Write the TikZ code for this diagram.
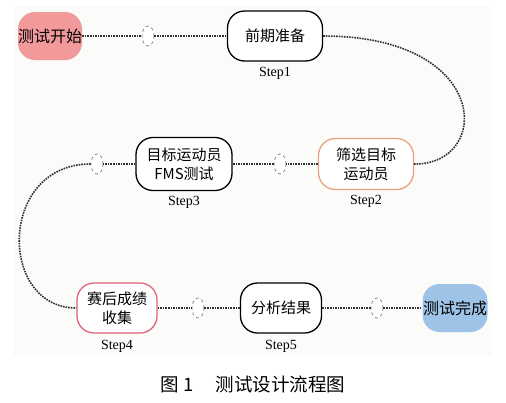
\documentclass[tikz,border=0pt]{standalone}
\usepackage{fontspec}
\setmainfont{Liberation Serif}
\newfontfamily\cjk{Noto Sans CJK SC}
\usepackage{xcolor}
\usepackage{tikz}
\usetikzlibrary{shapes.geometric}
\definecolor{panel}{HTML}{FBFBF9}
\definecolor{startfill}{HTML}{F29A9B}
\definecolor{endfill}{HTML}{9DC3E6}
\definecolor{orangeb}{HTML}{E9A07C}
\definecolor{redb}{HTML}{DE6479}
\definecolor{link}{HTML}{303030}
\definecolor{ring}{HTML}{8C8C8C}
\tikzset{
  box/.style={draw=black, line width=1.3pt, fill=white, rounded corners=17pt,
    inner sep=0pt, align=center, font=\cjk\fontsize{15}{19}\selectfont},
  termbox/.style={draw=none, rounded corners=17pt, inner sep=0pt,
    font=\cjk\fontsize{16}{19}\selectfont},
  knot/.style={ellipse, draw=ring, dashed, line width=0.8pt, fill=white,
    minimum width=12pt, minimum height=20pt, inner sep=0pt},
  link/.style={draw=link, densely dotted, line width=1.6pt},
  steplab/.style={font=\fontsize{14}{16}\selectfont},
  figcap/.style={font=\cjk\fontsize{18.5}{20}\selectfont}
}
\begin{document}
\begin{tikzpicture}[x=1pt,y=-1pt]
  \useasboundingbox (0,0) rectangle (506,402);
  \fill[panel] (13,6) rectangle (492,356);

  % top row
  \node[termbox, fill=startfill, minimum width=64pt, minimum height=48pt] (start) at (50,36) {测试开始};
  \node[knot] (k1) at (148,36) {};
  \node[box, minimum width=95pt, minimum height=50pt] (prep) at (275,36) {前期准备};
  \node[steplab] (s1) at (275,73) {Step1};

  % middle row
  \node[box, draw=orangeb, minimum width=95pt, minimum height=51pt] (pick) at (366,164) {筛选目标\\运动员};
  \node[steplab] (s2) at (366,201) {Step2};
  \node[knot] (k2) at (280,164) {};
  \node[box, minimum width=96pt, minimum height=53pt] (fms) at (184,164) {目标运动员\\FMS测试};
  \node[steplab] (s3) at (184,202) {Step3};
  \node[knot] (k3) at (97,164) {};

  % bottom row
  \node[box, draw=redb, minimum width=80pt, minimum height=50pt] (collect) at (117,308) {赛后成绩\\收集};
  \node[steplab] (s4) at (117,346) {Step4};
  \node[knot] (k4) at (198,308) {};
  \node[box, minimum width=81pt, minimum height=50pt] (analyse) at (281,308) {分析结果};
  \node[steplab] (s5) at (281,346) {Step5};
  \node[knot] (k5) at (377,308) {};
  \node[termbox, fill=endfill, minimum width=65pt, minimum height=48pt] (finish) at (455,308) {测试完成};

  % links
  \draw[link] (start) -- (k1) -- (prep);
  \draw[link] (prep.east) .. controls (492,36) and (492,165) .. (pick.east);
  \draw[link] (pick) -- (k2) -- (fms) -- (k3);
  \draw[link] (k3.west) .. controls (-2,164) and (-2,308) .. (collect.west);
  \draw[link] (collect) -- (k4) -- (analyse) -- (k5) -- (finish);

  \node[figcap] (title) at (253,384) {图 1\hspace{1.2em}测试设计流程图};
\end{tikzpicture}
\end{document}
